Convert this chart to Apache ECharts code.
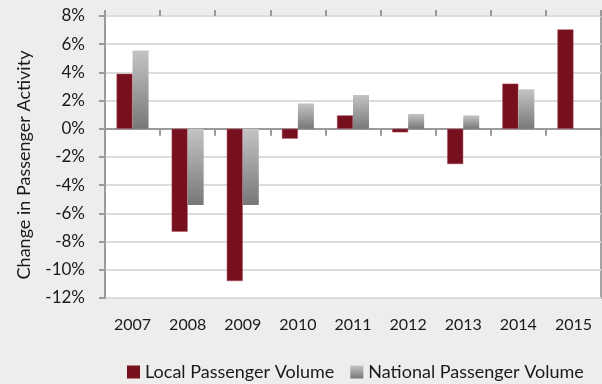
<!DOCTYPE html>
<html>
<head>
<meta charset="utf-8">
<script src="https://cdn.jsdelivr.net/npm/echarts@6/dist/echarts.min.js"></script>
<style>
  html, body { margin: 0; padding: 0; background: #eeedeb; }
  #chart { width: 602px; height: 384px; }
</style>
</head>
<body>
<div id="chart"></div>
<script>
// values (percent change)
const years = ['2007', '2008', '2009', '2010', '2011', '2012', '2013', '2014', '2015'];
const localVolume = [3.9, -7.3, -10.8, -0.7, 0.95, -0.25, -2.5, 3.2, 7.05];
const nationalVolume = [5.55, -5.4, -5.4, 1.8, 2.4, 1.05, 0.95, 2.8, null];
const yTicks = { min: -12, max: 8, interval: 2 };

const font = 'Lato, "Open Sans", sans-serif';
let myChart = echarts.init(document.getElementById('chart'));

const hiddenCat = (pos, tickLen, showLine) => ({
    type: 'category',
    data: years,
    position: pos,
    axisLine: { show: showLine, onZero: true, lineStyle: { color: '#9a9a9a', width: 2 } },
    axisTick: { show: true, length: tickLen, lineStyle: { color: '#9a9a9a', width: 2 } },
    axisLabel: { show: false },
    splitLine: { show: false }
});

myChart.setOption({
    backgroundColor: '#eeedeb',
    animation: false,
    grid: {
        left: 105, right: 1, top: 16, bottom: 86,
        show: true,
        backgroundColor: '#ffffff',
        borderColor: '#a3a3a3',
        borderWidth: 2
    },
    xAxis: [
        {
            type: 'category',
            data: years,
            position: 'bottom',
            axisLine: { show: false, onZero: false },
            axisTick: { show: false },
            axisLabel: { color: '#1a1a1a', fontSize: 16, fontFamily: font, margin: 19 }
        },
        hiddenCat('bottom', 7, true),
        hiddenCat('top', 6, false)
    ],
    yAxis: {
        type: 'value',
        min: yTicks.min,
        max: yTicks.max,
        interval: yTicks.interval,
        name: 'Change in Passenger Activity',
        nameLocation: 'middle',
        nameGap: 72,
        nameTextStyle: { color: '#1a1a1a', fontSize: 18, fontFamily: font, padding: [0, 16, 0, 0] },
        axisLine: { show: true, lineStyle: { color: '#9a9a9a', width: 2 } },
        axisTick: { show: true, length: 6, lineStyle: { color: '#9a9a9a', width: 2 } },
        axisLabel: {
            color: '#1a1a1a', fontSize: 17, fontFamily: font, margin: 20,
            formatter: v => v + '%'
        },
        splitLine: { show: true, lineStyle: { color: '#dcdcdc', width: 2 } }
    },
    legend: {
        left: 127,
        top: 363,
        padding: 0,
        itemWidth: 13,
        itemHeight: 13,
        itemGap: 16,
        icon: 'rect',
        itemStyle: { borderWidth: 0 },
        textStyle: { color: '#1a1a1a', fontSize: 18, fontFamily: font },
        data: ['Local Passenger Volume', 'National Passenger Volume']
    },
    series: [
        {
            name: 'Local Passenger Volume',
            type: 'bar',
            data: localVolume,
            barWidth: 16,
            barGap: '0%',
            itemStyle: { color: '#76101f', borderColor: '#a8505d', borderWidth: 0.5 }
        },
        {
            name: 'National Passenger Volume',
            type: 'bar',
            data: nationalVolume,
            barWidth: 16,
            itemStyle: {
                color: {
                    type: 'linear', x: 0, y: 0, x2: 0, y2: 1,
                    colorStops: [
                        { offset: 0, color: '#c4c4c4' },
                        { offset: 1, color: '#787878' }
                    ]
                }
            }
        }
    ]
});
</script>
</body>
</html>
